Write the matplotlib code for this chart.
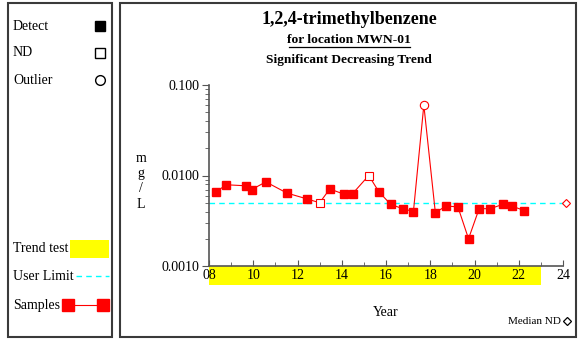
import numpy as np
import matplotlib
matplotlib.use('Agg')
import matplotlib.pyplot as plt
from matplotlib.patches import Rectangle
import matplotlib.transforms as mtransforms

# sample dates (years since 2000) and concentrations (mg/L)
years = [8.32, 8.78, 9.65, 9.93, 10.57, 11.52, 12.44, 13.00, 13.46, 14.11, 14.49, 15.22, 15.68,
         16.21, 16.75, 17.24, 17.71, 18.23, 18.72, 19.25, 19.73, 20.21, 20.71, 21.28, 21.68, 22.25]
values = [0.0066, 0.0079, 0.0077, 0.0070, 0.0085, 0.0064, 0.0055, 0.0050, 0.0071, 0.0062, 0.0063, 0.0100, 0.0066,
          0.0048, 0.0043, 0.0040, 0.0600, 0.0039, 0.0046, 0.0045, 0.0020, 0.0043, 0.0043, 0.0048, 0.0046, 0.0041]
# D = detect, N = non detect, O = outlier
flags = ['D', 'D', 'D', 'D', 'D', 'D', 'D', 'N', 'D', 'D', 'D', 'N', 'D',
         'D', 'D', 'D', 'O', 'D', 'D', 'D', 'D', 'D', 'D', 'D', 'D', 'D']
user_limit = 0.005
median_nd_year = 24.15
median_nd = 0.005
trend_start, trend_end = 8, 23
xticks = [8, 10, 12, 14, 16, 18, 20, 22, 24]
xticklabels = ['08', '10', '12', '14', '16', '18', '20', '22', '24']
yticks = [0.001, 0.01, 0.1]
yticklabels = ['0.0010', '0.0100', '0.100']

matplotlib.rc('font', family='Liberation Serif')
W, H = 578, 339
fig = plt.figure(figsize=(W/100.0, H/100.0), dpi=100)

## overlay in pixel coords for frames and legend panel
bg = fig.add_axes([0, 0, 1, 1])
bg.set_xlim(0, W)
bg.set_ylim(H, 0)
bg.axis('off')
frame_col = '#3a3a3a'
bg.add_patch(Rectangle((8, 3), 104, 334, fill=False, edgecolor=frame_col, lw=1.5))
bg.add_patch(Rectangle((120, 3), 456, 334, fill=False, edgecolor=frame_col, lw=1.5))

lab = dict(fontsize=10, va='center', ha='left', color='black')
bg.text(13, 26, 'Detect', **lab)
bg.plot([100], [26], 's', color='black', markersize=7)
bg.text(13, 53, 'ND', **lab)
bg.plot([100], [53], 's', markerfacecolor='white', markeredgecolor='black', markersize=7, mew=1)
bg.text(13, 80, 'Outlier', **lab)
bg.plot([100], [80], 'o', markerfacecolor='white', markeredgecolor='black', markersize=7, mew=1)
bg.text(13, 249, 'Trend test', **lab)
bg.add_patch(Rectangle((70, 240), 39, 18, facecolor='#ffff00', edgecolor='none'))
bg.text(13, 276, 'User Limit', **lab)
bg.plot([76, 109], [276, 276], color='#00ffff', lw=1, dashes=(4, 3))
bg.text(13, 305, 'Samples', **lab)
bg.plot([68, 103], [305, 305], color='red', lw=0.8)
bg.plot([68, 103], [305, 305], 's', color='red', markersize=8, linestyle='none')

bg.text(349, 20, '1,2,4-trimethylbenzene', fontsize=13, fontweight='bold', ha='center', va='center')
bg.text(349, 40, 'for location MWN-01', fontsize=9.7, fontweight='bold', ha='center', va='center')
bg.plot([289, 410], [46.5, 46.5], color='black', lw=0.9)
bg.text(349, 60, 'Significant Decreasing Trend', fontsize=9.6, fontweight='bold', ha='center', va='center')

for ch, yy in zip(['m', 'g', '/', 'L'], [158, 174, 189, 204]):
    bg.text(141, yy, ch, fontsize=10, ha='center', va='center')
bg.text(386, 312, 'Year', fontsize=10, ha='center', va='center')
bg.text(561, 321, 'Median ND', fontsize=8, ha='right', va='center')
bg.plot([567], [321], 'D', markerfacecolor='white', markeredgecolor='black', markersize=4.5, mew=0.9)

## main plot
ax = fig.add_axes([209.0/W, (H-266.0)/H, 354.0/W, 181.0/H])
ax.set_facecolor('none')
ax.set_yscale('log')
ax.set_xlim(8, 24)
ax.set_ylim(0.001, 0.1)
for s in ['top', 'right']:
    ax.spines[s].set_visible(False)
for s in ['left', 'bottom']:
    ax.spines[s].set_color('#555555')
    ax.spines[s].set_linewidth(1.2)

trans = mtransforms.blended_transform_factory(ax.transData, ax.transAxes)
ax.add_patch(Rectangle((trend_start, -0.107), trend_end - trend_start, 0.107, transform=trans,
                       facecolor='#ffff00', edgecolor='none', clip_on=False, zorder=0.5))

ax.axhline(user_limit, color='#00ffff', lw=1, dashes=(4, 3), zorder=1)
ax.plot(years, values, '-', color='red', lw=0.8, zorder=2)
yrs = np.array(years)
vals = np.array(values)
fl = np.array(flags)
ax.plot(yrs[fl == 'D'], vals[fl == 'D'], 's', color='red', markersize=6, linestyle='none', zorder=3)
ax.plot(yrs[fl == 'N'], vals[fl == 'N'], 's', markerfacecolor='white', markeredgecolor='red',
        markersize=6, mew=0.8, linestyle='none', zorder=3)
ax.plot(yrs[fl == 'O'], vals[fl == 'O'], 'o', markerfacecolor='white', markeredgecolor='red',
        markersize=6, mew=0.8, linestyle='none', zorder=3)
ax.plot([median_nd_year], [median_nd], 'D', markerfacecolor='white', markeredgecolor='red',
        markersize=4.5, mew=0.8, clip_on=False, zorder=3)

ax.set_xticks(xticks)
ax.set_xticklabels(xticklabels)
ax.set_xticks(np.arange(8, 25, 1), minor=True)
ax.tick_params(axis='x', which='both', direction='in', color='#555555', labelsize=10, pad=2)
ax.tick_params(axis='x', which='major', length=4)
ax.tick_params(axis='x', which='minor', length=3)
ax.set_yticks(yticks)
ax.set_yticklabels(yticklabels)
ax.tick_params(axis='y', which='both', direction='out', color='#555555', labelsize=10, pad=2)
ax.tick_params(axis='y', which='major', length=5)
ax.tick_params(axis='y', which='minor', length=3, labelleft=False)

fig.savefig('out.png', dpi=100)
